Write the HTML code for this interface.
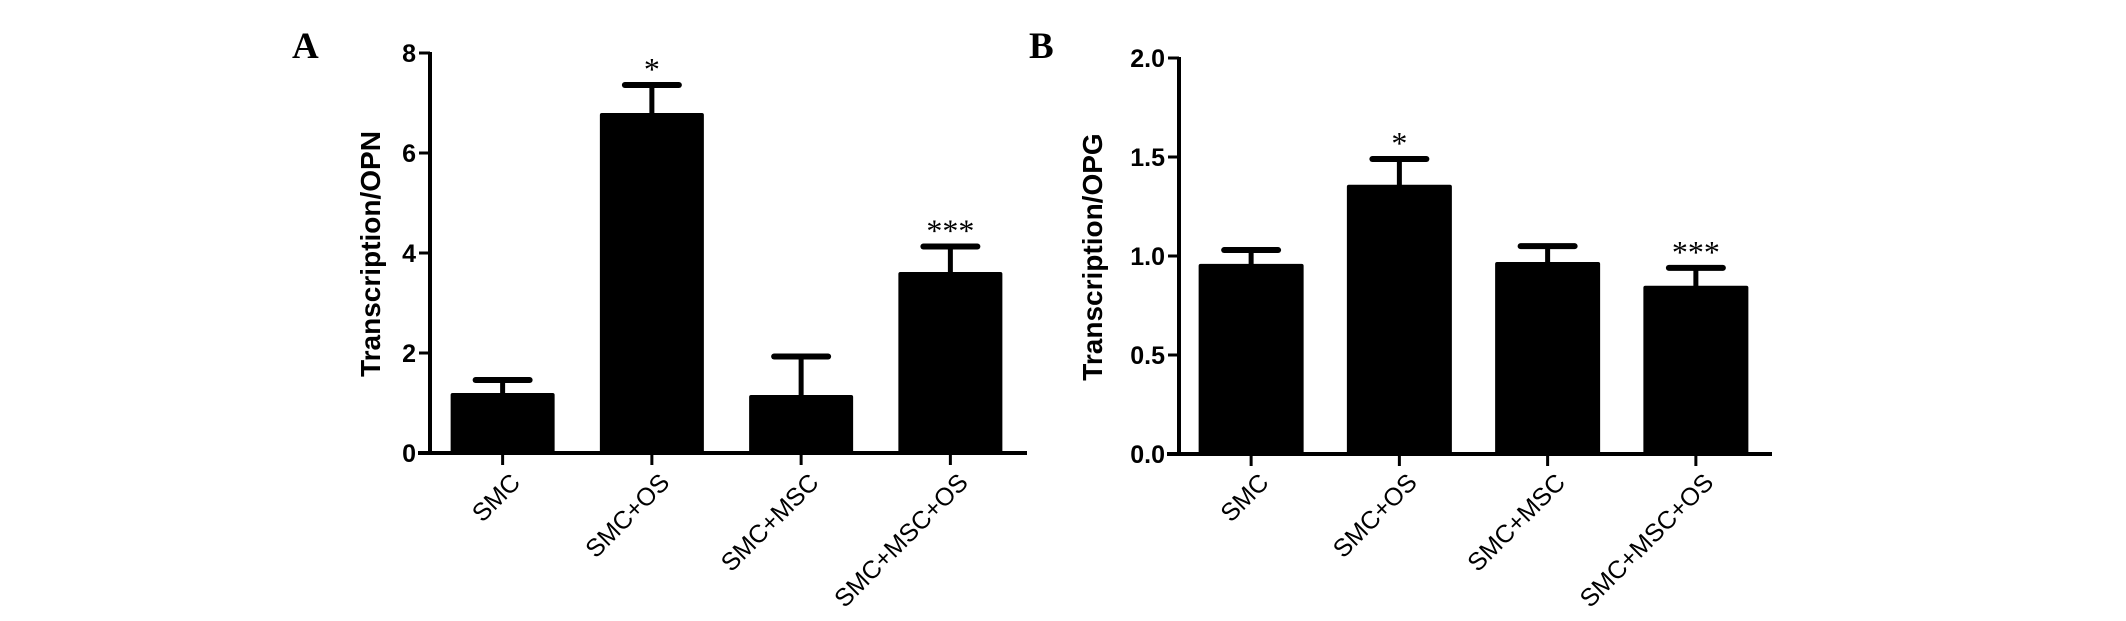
<!DOCTYPE html>
<html><head><meta charset="utf-8"><style>
html,body{margin:0;padding:0;background:#fff;}
svg{display:block;}
.sans{font-family:"Liberation Sans",Arial,sans-serif;}
.serif{font-family:"Liberation Serif","Times New Roman",serif;}
</style></head><body>
<svg id="fig" width="2126" height="621" viewBox="0 0 2126 621" xmlns="http://www.w3.org/2000/svg">
<rect width="2126" height="621" fill="#fff"/>
<g id="panelA"></g>
<g id="panelB"></g>
</svg>
<script>
const categories = ["SMC", "SMC+OS", "SMC+MSC", "SMC+MSC+OS"];
const opnValues = [1.20, 6.80, 1.16, 3.62];
const opnErrors = [0.26, 0.56, 0.77, 0.51];
const opnSig = ["", "*", "", "***"];
const opnTicks = [0, 2, 4, 6, 8];
const opnTickLabels = ["0", "2", "4", "6", "8"];
const opgValues = [0.96, 1.36, 0.97, 0.85];
const opgErrors = [0.07, 0.13, 0.08, 0.09];
const opgSig = ["", "*", "", "***"];
const opgTicks = [0, 0.5, 1.0, 1.5, 2.0];
const opgTickLabels = ["0.0", "0.5", "1.0", "1.5", "2.0"];

const NS = "http://www.w3.org/2000/svg";
function mk(parent, tag, attrs, txt){
  const e = document.createElementNS(NS, tag);
  for (const k in attrs) e.setAttribute(k, attrs[k]);
  if (txt !== undefined) e.textContent = txt;
  parent.appendChild(e);
  return e;
}

function drawPanel(g, cfg, values, errors, sig, ticks, tickLabels){
  const y = v => cfg.y0 - (v - cfg.vmin) / (cfg.vmax - cfg.vmin) * (cfg.y0 - cfg.yTop);
  const step = (cfg.xEnd - cfg.x0) / categories.length;
  const cx = i => cfg.x0 + step * (i + 0.5) - 2;

  const letter = mk(g, 'text', {x: cfg.letterX, y: 58, 'font-size': 37, 'font-weight': 'bold', class: 'serif'}, cfg.letter);
  
  

  const title = mk(g, 'text', {transform: `translate(${cfg.titleX},${cfg.titleY}) rotate(-90)`, 'text-anchor': 'middle', 'font-size': 28, 'font-weight': 'bold', class: 'sans'}, cfg.title);
  
  

  values.forEach((v, i) => {
    const c = cx(i);
    const bar = mk(g, 'rect', {x: c - cfg.bw / 2, y: y(v), width: cfg.bw, height: y(cfg.vmin) - y(v), fill: '#000', rx: 2});
    
    
    const top = y(v + errors[i]);
    const stem = mk(g, 'line', {x1: c, x2: c, y1: y(v) + 2, y2: top, stroke: '#000', 'stroke-width': 5});
    
    
    const cap = mk(g, 'line', {x1: c - 27, x2: c + 27, y1: top, y2: top, stroke: '#000', 'stroke-width': 6, 'stroke-linecap': 'round'});
    
    
    if (sig[i]) {
      const s = mk(g, 'text', {x: c, y: top - 5, 'text-anchor': 'middle', 'font-size': 32, class: 'serif'}, sig[i]);
      
      
    }
    const t = mk(g, 'line', {x1: c, x2: c, y1: cfg.y0, y2: cfg.y0 + 12, stroke: '#000', 'stroke-width': 3});
    
    
    const lab = mk(g, 'text', {transform: `translate(${c + 19},484) rotate(-45)`, 'text-anchor': 'end', 'font-size': 25, class: 'sans'}, categories[i]);
    
    
  });

  const ya = mk(g, 'line', {x1: cfg.x0, x2: cfg.x0, y1: y(cfg.vmax) - 1, y2: cfg.y0 + 2, stroke: '#000', 'stroke-width': 4});
  
  
  const xa = mk(g, 'line', {x1: cfg.x0 - 12, x2: cfg.xEnd, y1: cfg.y0, y2: cfg.y0, stroke: '#000', 'stroke-width': 4});
  
  

  ticks.forEach((tv, i) => {
    const ty = y(tv);
    const tk = mk(g, 'line', {x1: cfg.x0 - 11, x2: cfg.x0, y1: ty, y2: ty, stroke: '#000', 'stroke-width': 3});
    
    
    const tl = mk(g, 'text', {x: cfg.x0 - 14, y: ty + 9, 'text-anchor': 'end', 'font-size': 25, 'font-weight': 'bold', class: 'sans'}, tickLabels[i]);
    
    
  });
}

drawPanel(document.getElementById('panelA'),
  {letter: 'A', letterX: 292, title: 'Transcription/OPN', titleX: 380, titleY: 254,
   x0: 430, xEnd: 1027, y0: 453, yTop: 53, vmin: 0, vmax: 8, bw: 104},
  opnValues, opnErrors, opnSig, opnTicks, opnTickLabels);

drawPanel(document.getElementById('panelB'),
  {letter: 'B', letterX: 1029, title: 'Transcription/OPG', titleX: 1102, titleY: 257,
   x0: 1179, xEnd: 1772, y0: 454, yTop: 58, vmin: 0, vmax: 2, bw: 105},
  opgValues, opgErrors, opgSig, opgTicks, opgTickLabels);
</script>
</body></html>
